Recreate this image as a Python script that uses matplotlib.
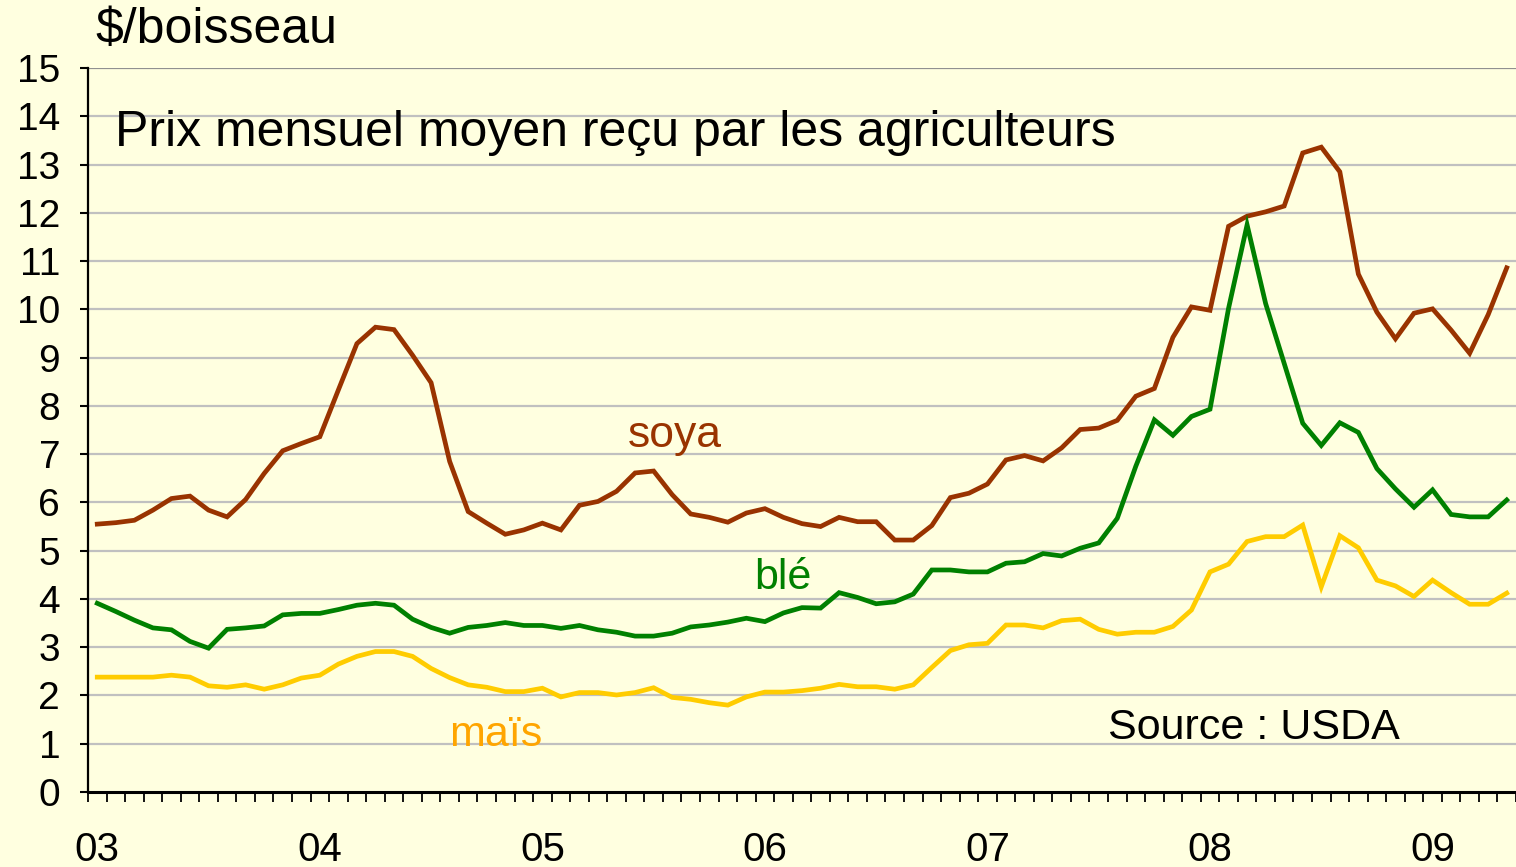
import matplotlib
matplotlib.use('Agg')
import matplotlib.pyplot as plt
from matplotlib.ticker import FixedLocator, NullFormatter

plt.rcParams['font.family'] = ['Liberation Sans', 'DejaVu Sans']

# monthly prices, Jan 2003 .. May 2009 ($/bushel)
soya = [5.55, 5.58, 5.63, 5.84, 6.08, 6.13, 5.84, 5.70, 6.06, 6.60,
        7.07, 7.22, 7.36, 8.33, 9.29, 9.63, 9.58, 9.05, 8.48, 6.85,
        5.81, 5.57, 5.34, 5.43, 5.57, 5.43, 5.94, 6.02, 6.23, 6.61,
        6.65, 6.16, 5.76, 5.69, 5.59, 5.78, 5.87, 5.69, 5.56, 5.50,
        5.69, 5.60, 5.60, 5.22, 5.22, 5.52, 6.10, 6.19, 6.38, 6.88,
        6.97, 6.86, 7.13, 7.51, 7.54, 7.70, 8.20, 8.36, 9.42, 10.05,
        9.98, 11.72, 11.93, 12.02, 12.14, 13.24, 13.36, 12.85, 10.73, 9.94,
        9.39, 9.92, 10.01, 9.57, 9.09, 9.89, 10.86]
ble = [3.91, 3.74, 3.56, 3.40, 3.36, 3.12, 2.98, 3.37, 3.40, 3.44,
       3.67, 3.70, 3.70, 3.78, 3.87, 3.91, 3.87, 3.58, 3.41, 3.29,
       3.41, 3.45, 3.51, 3.45, 3.45, 3.39, 3.45, 3.36, 3.31, 3.23,
       3.23, 3.29, 3.42, 3.46, 3.52, 3.60, 3.53, 3.71, 3.82, 3.81,
       4.13, 4.03, 3.90, 3.94, 4.10, 4.60, 4.60, 4.56, 4.56, 4.74,
       4.77, 4.94, 4.89, 5.05, 5.16, 5.67, 6.75, 7.71, 7.39, 7.78,
       7.93, 10.02, 11.75, 10.12, 8.88, 7.64, 7.18, 7.65, 7.45, 6.70,
       6.28, 5.90, 6.26, 5.75, 5.70, 5.70, 6.05]
mais = [2.38, 2.38, 2.38, 2.38, 2.42, 2.38, 2.20, 2.17, 2.22, 2.13,
        2.22, 2.36, 2.42, 2.65, 2.81, 2.91, 2.91, 2.81, 2.56, 2.37,
        2.22, 2.17, 2.08, 2.08, 2.15, 1.97, 2.06, 2.06, 2.01, 2.06,
        2.16, 1.96, 1.92, 1.85, 1.80, 1.97, 2.07, 2.07, 2.10, 2.15,
        2.23, 2.18, 2.18, 2.13, 2.22, 2.58, 2.93, 3.05, 3.08, 3.46,
        3.46, 3.40, 3.55, 3.58, 3.37, 3.27, 3.31, 3.31, 3.43, 3.77,
        4.56, 4.72, 5.19, 5.29, 5.29, 5.53, 4.25, 5.31, 5.06, 4.39,
        4.27, 4.05, 4.39, 4.13, 3.89, 3.89, 4.12]
year_labels = ['03', '04', '05', '06', '07', '08', '09']

W, H = 1516, 867
bg = '#FFFFE0'

fig = plt.figure(figsize=(W / 100, H / 100), dpi=100, facecolor=bg)
ax = fig.add_axes([88 / W, 1 - 792 / H, (W - 88) / W, (792 - 68) / H])
ax.set_facecolor(bg)

months = list(range(len(soya)))
ax.plot(months, soya, color='#993300', lw=3.4, solid_joinstyle='miter', zorder=3)
ax.plot(months, ble, color='#008000', lw=3.4, solid_joinstyle='miter', zorder=3)
ax.plot(months, mais, color='#FFCC00', lw=3.4, solid_joinstyle='miter', zorder=3)

ax.set_xlim(-0.5, len(soya) - 0.5)
ax.set_ylim(0, 15)

# horizontal grid
for v in range(1, 15):
    ax.axhline(v, color='#C0C0C0', lw=1.6, zorder=1)
ax.axhline(15, color='#909090', lw=1.6, zorder=1)

for s in ['top', 'right']:
    ax.spines[s].set_visible(False)
ax.spines['left'].set_linewidth(1.6)
ax.spines['bottom'].set_linewidth(2.2)

ax.set_yticks(range(0, 16))
ax.tick_params(axis='y', direction='out', length=6, width=1.5, pad=14,
               labelsize=28)

ax.set_xticks([12 * k for k in range(len(year_labels))])
ax.set_xticklabels(year_labels)
ax.xaxis.set_minor_locator(FixedLocator([k - 0.5 for k in range(len(soya) + 1)]))
ax.xaxis.set_minor_formatter(NullFormatter())
ax.tick_params(axis='x', which='major', length=0, pad=28, labelsize=29)
ax.tick_params(axis='x', which='minor', direction='out', length=7, width=1.3)

def px(x, y):
    return x / W, 1 - y / H

fig.text(*px(95, 30), '$/boisseau', fontsize=36, ha='left', va='center')
fig.text(*px(115, 133), 'Prix mensuel moyen reçu par les agriculteurs',
         fontsize=36, ha='left', va='center')
fig.text(*px(675, 435), 'soya', fontsize=32, color='#993300', ha='center', va='center')
fig.text(*px(783, 578), 'blé', fontsize=31, color='#008000', ha='center', va='center')
fig.text(*px(496, 735), 'maïs', fontsize=31, color='#FFA500', ha='center', va='center')
fig.text(*px(1254, 728), 'Source : USDA', fontsize=31, ha='center', va='center')

fig.savefig('out.png', dpi=100, facecolor=bg)
